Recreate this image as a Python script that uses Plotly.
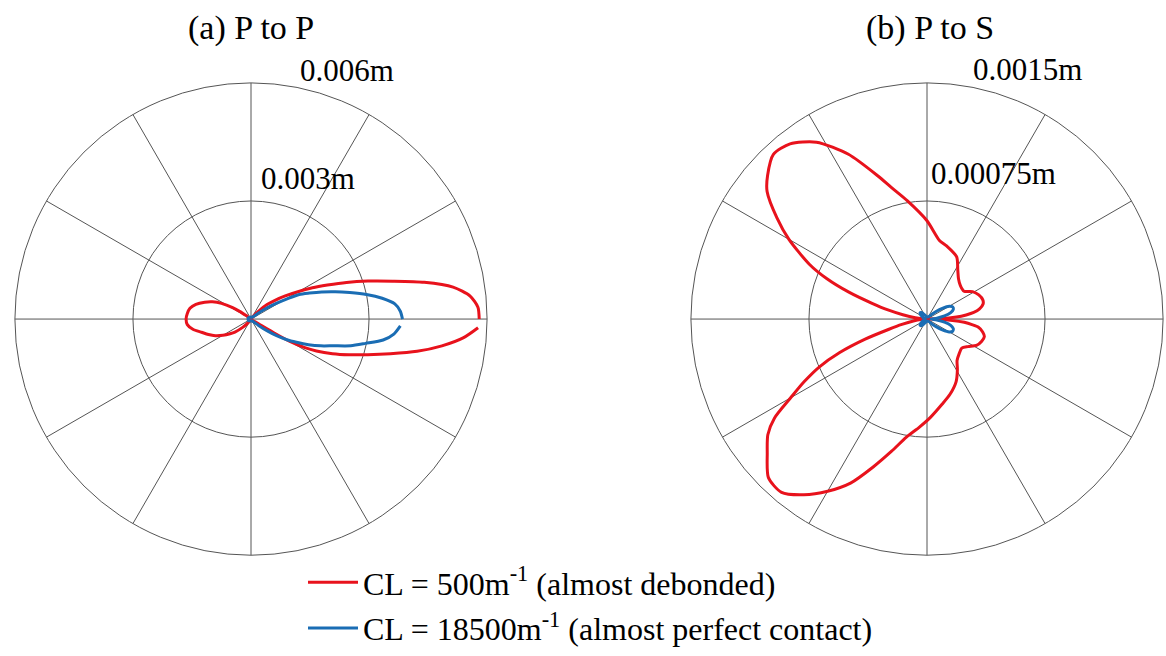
import plotly.graph_objects as go

# ---------------- data ----------------
# (a) P to P, CL = 500 m^-1 (red)
pp_red_theta = [0, 3, 6, 9, 12, 15, 18, 21, 24, 27, 30, 34, 38, 42, 46, 50, 55, 90, 130,
                140, 144, 146, 148, 152, 156, 160, 165, 170, 175, 180, 185, 190, 195, 200, 205,
                210, 215, 219, 225, 232, 240, 270, 300, 315, 325, 328, 329, 330, 332, 334, 337,
                340, 343, 346, 349, 352, 355, 357.8]
pp_red_r = [0.00580, 0.005775, 0.0056, 0.0052, 0.0045, 0.003725, 0.003125, 0.0026, 0.002125,
            0.00175, 0.0014, 0.00105, 0.000775, 0.00055, 0.0003, 0.000125, 0.00005, 0.000025,
            0.00005, 0.00005, 0.00015, 0.00035, 0.00055, 0.00085, 0.001075, 0.00125, 0.00145,
            0.001575, 0.001625, 0.00165, 0.001625, 0.0015, 0.0013, 0.00115, 0.001, 0.000825,
            0.00065, 0.000525, 0.0003, 0.000125, 0.00005, 0.000025, 0.000025, 0.00005, 0.0001,
            0.0003, 0.0007, 0.001125, 0.00155, 0.00185, 0.00225, 0.00265, 0.0031, 0.00365,
            0.0043, 0.0049, 0.005425, 0.005775]

# (a) P to P, CL = 18500 m^-1 (blue)
pp_blue_theta = [0, 3, 6, 9, 12, 15, 18, 21, 24, 27, 30, 33, 36, 40, 45, 60, 90, 120, 150, 180,
                 210, 240, 270, 300, 315, 320, 324, 327, 330, 333, 336, 339, 342, 345, 348, 351,
                 354, 357.4]
pp_blue_r = [0.00385, 0.0038, 0.003675, 0.003375, 0.0030, 0.0026, 0.00225, 0.001925, 0.001625,
             0.001375, 0.00095, 0.00065, 0.0004, 0.0002, 0.0001, 0.00005, 0.00005, 0.00005,
             0.000075, 0.000075, 0.000075, 0.00005, 0.00005, 0.00005, 0.000125, 0.00025, 0.0005,
             0.000775, 0.00105, 0.0013, 0.0016, 0.0019, 0.0022, 0.002625, 0.002975, 0.0034,
             0.00365, 0.0038]

# (b) P to S, CL = 500 m^-1 (red)
ps_red_theta = [0, 1.5, 4, 6, 8, 10.7, 15, 19, 25, 31, 37, 45, 52, 58, 64.5, 75, 81, 90, 99.5,
                105, 109, 115.5, 122, 128, 133, 138, 141.4, 146, 150, 155, 158, 161, 164, 167,
                170, 174, 177, 180, 184, 188, 192, 195, 198, 201, 204, 207, 210, 213, 216, 220,
                225, 230, 235, 240, 245, 250, 255, 260, 266, 272, 280, 287, 295, 301, 306, 313,
                320, 326, 332, 338, 343, 347, 351, 353, 355, 357, 359, 360]
ps_red_r = [0.0, 0.0000813, 0.000188, 0.00025, 0.0003, 0.000338, 0.000369, 0.000375, 0.000363,
            0.000338, 0.000294, 0.0003, 0.000325, 0.000369, 0.000438, 0.000481, 0.000506,
            0.000625, 0.000763, 0.000863, 0.000963, 0.00116, 0.001325, 0.001413, 0.001431,
            0.001363, 0.0013, 0.00115, 0.001013, 0.000825, 0.000688, 0.000525, 0.000363,
            0.00025, 0.000156, 0.000075, 0.0000313, 0.0, 0.0000375, 0.0000875, 0.000163,
            0.00025, 0.000413, 0.000594, 0.00075, 0.000875, 0.001, 0.001156, 0.00125, 0.001325,
            0.001425, 0.001438, 0.001363, 0.001263, 0.00115, 0.001, 0.000869, 0.000763,
            0.000688, 0.000625, 0.00055, 0.0005, 0.000438, 0.000375, 0.000325, 0.0003, 0.000288,
            0.000313, 0.000356, 0.000375, 0.000381, 0.000363, 0.000331, 0.000288, 0.000238,
            0.000163, 0.0000625, 0.0]

# (b) P to S, CL = 18500 m^-1 (blue)
ps_blue_theta = [0, 5, 10, 15, 20, 25, 30, 35, 40, 45, 55, 90, 115, 125, 132, 138, 145, 155, 170,
                 180, 190, 205, 215, 222, 228, 235, 245, 270, 305, 315, 320, 325, 330, 335, 340,
                 345, 350, 355, 360]
ps_blue_r = [0.000025, 0.0000625, 0.000113, 0.000156, 0.000178, 0.000181, 0.000163, 0.000119,
             0.000075, 0.0000438, 0.0000188, 0.0000125, 0.000025, 0.0000438, 0.0000563,
             0.0000594, 0.00005, 0.0000313, 0.0000188, 0.0000125, 0.0000188, 0.0000313, 0.00005,
             0.0000594, 0.0000563, 0.0000438, 0.000025, 0.0000125, 0.0000188, 0.0000438,
             0.000075, 0.000119, 0.000163, 0.000181, 0.000178, 0.000156, 0.000113, 0.0000625,
             0.000025]

titles = ["(a) P to P", "(b) P to S"]
pp_ticks = [0.003, 0.006]
ps_ticks = [0.00075, 0.0015]
tick_labels_pp = ["0.003m", "0.006m"]
tick_labels_ps = ["0.00075m", "0.0015m"]
series_names = ["CL = 500m<sup>-1</sup> (almost debonded)",
                "CL = 18500m<sup>-1</sup> (almost perfect contact)"]

# ---------------- styling ----------------
W, H = 1166, 656
RED = "#E8121C"
BLUE = "#1A6DB4"
GRID = "#555555"
FONT = "Liberation Serif, Times New Roman, serif"
FS_TITLE = 34
FS_LABEL = 31
FS_LEGEND = 32

R = 239
cxL, cy = 251, 323
cxR = 927


def dom(cx):
    return dict(x=[(cx - R) / W, min(1.0, (cx + R) / W)],
                y=[(H - cy - R) / H, (H - cy + R) / H])


def line(color):
    return dict(color=color, width=3, shape="spline", smoothing=0.7)


fig = go.Figure()
fig.add_trace(go.Scatterpolar(theta=pp_red_theta, r=pp_red_r, mode="lines", subplot="polar",
                              name=series_names[0], line=line(RED), legendgroup="a"))
fig.add_trace(go.Scatterpolar(theta=pp_blue_theta, r=pp_blue_r, mode="lines", subplot="polar",
                              name=series_names[1], line=line(BLUE), legendgroup="b"))
fig.add_trace(go.Scatterpolar(theta=ps_red_theta, r=ps_red_r, mode="lines", subplot="polar2",
                              name=series_names[0], line=line(RED), showlegend=False,
                              legendgroup="a"))
fig.add_trace(go.Scatterpolar(theta=ps_blue_theta, r=ps_blue_r, mode="lines", subplot="polar2",
                              name=series_names[1], line=line(BLUE), showlegend=False,
                              legendgroup="b"))


def polar_layout(cx, ticks):
    return dict(
        domain=dom(cx),
        bgcolor="white",
        angularaxis=dict(showticklabels=False, ticks="", dtick=30, rotation=0,
                         direction="counterclockwise", showgrid=True, gridcolor=GRID,
                         gridwidth=1, showline=True, linecolor=GRID, linewidth=1),
        radialaxis=dict(range=[0, ticks[-1]], tickvals=ticks[:-1], showticklabels=False,
                        ticks="", showline=False, showgrid=True, gridcolor=GRID, gridwidth=1),
    )


annotations = []
for cx, t in zip([251, 930], titles):
    annotations.append(dict(text=t, x=cx / W, y=1 - 28 / H, xref="paper", yref="paper",
                            xanchor="center", yanchor="middle", showarrow=False,
                            font=dict(family=FONT, size=FS_TITLE, color="black")))

label_pos = [(tick_labels_pp[1], 298, 71), (tick_labels_pp[0], 259, 181),
             (tick_labels_ps[1], 971, 70), (tick_labels_ps[0], 929, 176)]
for txt, x, y in label_pos:
    annotations.append(dict(text=txt, x=x / W, y=1 - y / H, xref="paper", yref="paper",
                            xanchor="left", yanchor="middle", showarrow=False,
                            font=dict(family=FONT, size=FS_LABEL, color="black")))

fig.update_layout(
    width=W, height=H, autosize=False,
    margin=dict(l=0, r=0, t=0, b=0),
    paper_bgcolor="white", plot_bgcolor="white",
    polar=polar_layout(cxL, pp_ticks),
    polar2=polar_layout(cxR, ps_ticks),
    annotations=annotations,
    showlegend=True,
    legend=dict(x=303 / W, y=1 - 562 / H, xanchor="left", yanchor="top",
                bgcolor="rgba(0,0,0,0)", font=dict(family=FONT, size=FS_LEGEND, color="black"),
                tracegroupgap=1, itemwidth=50),
)

fig.write_html("out.html")
